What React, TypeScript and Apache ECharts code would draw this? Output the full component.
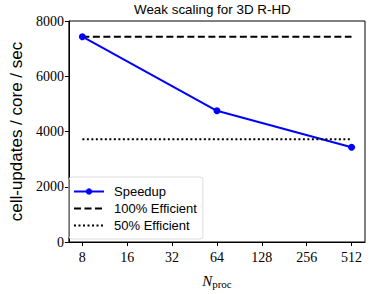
import React, { useEffect, useRef } from "react";
import * as echarts from "echarts";

const nproc = [8, 64, 512];
const speedup = [7430, 4750, 3430];
const effX = [8, 512];
const eff100 = [7430, 7430];
const eff50 = [3715, 3715];
const xTicks = [8, 16, 32, 64, 128, 256, 512];

export default function App() {
  const ref = useRef<HTMLDivElement>(null);
  useEffect(() => {
    const chart = echarts.init(ref.current!, null, { renderer: "svg" });
    const serif = "'Liberation Serif', 'DejaVu Serif', serif";
    const sans = "'Liberation Sans', Arial, sans-serif";
    chart.setOption({
      animation: false,
      backgroundColor: "#fff",
      title: {
        text: "Weak scaling for 3D R-HD",
        left: 134,
        top: 3,
        padding: 0,
        textStyle: { fontFamily: sans, fontSize: 13.4, fontWeight: "normal", color: "#000" },
      },
      grid: { left: 62, right: 9, top: 21, bottom: 48, show: true, borderColor: "#000", borderWidth: 1 },
      legend: {
        orient: "vertical",
        left: 69,
        top: 177,
        padding: [8, 6, 7, 4],
        itemGap: 4,
        itemWidth: 30,
        itemHeight: 8,
        borderColor: "#ddd",
        borderWidth: 1,
        borderRadius: 3,
        textStyle: { fontFamily: sans, fontSize: 13, color: "#000", padding: [0, 0, 0, 5] },
        data: [
          { name: "Speedup" },
          { name: "100% Efficient", itemStyle: { opacity: 0 } },
          { name: "50% Efficient", itemStyle: { opacity: 0 } },
        ],
      },
      xAxis: {
        type: "log",
        logBase: 2,
        min: 8 / Math.pow(2, 0.3),
        max: 512 * Math.pow(2, 0.3),
        splitLine: { show: false },
        axisLine: { lineStyle: { color: "#000" } },
        axisTick: { customValues: xTicks, length: 4, lineStyle: { color: "#000" } },
        axisLabel: { customValues: xTicks, fontFamily: serif, fontSize: 14, color: "#000", margin: 8 },
        name: "{n|N}{s|proc}",
        nameLocation: "middle",
        nameGap: 30,
        nameTextStyle: {
          rich: {
            n: { fontFamily: serif, fontStyle: "italic", fontSize: 15, color: "#000" },
            s: { fontFamily: serif, fontSize: 11, color: "#000", verticalAlign: "bottom", padding: [6, 0, 0, 0] },
          },
        },
      },
      yAxis: {
        type: "value",
        min: 0,
        max: 8000,
        interval: 2000,
        splitLine: { show: false },
        axisLine: { show: true, lineStyle: { color: "#000" } },
        axisTick: { show: true, length: 4, lineStyle: { color: "#000" } },
        axisLabel: { fontFamily: serif, fontSize: 14, color: "#000", margin: 5, formatter: (v: number) => String(v) },
        name: "cell-updates / core / sec",
        nameLocation: "middle",
        nameGap: 35,
        nameTextStyle: { fontFamily: sans, fontSize: 17, color: "#000" },
      },
      series: [
        {
          name: "Speedup",
          type: "line",
          data: nproc.map((n, i) => [n, speedup[i]]),
          symbol: "circle",
          symbolSize: 7,
          itemStyle: { color: "#0000ff" },
          lineStyle: { color: "#0000ff", width: 2 },
        },
        {
          name: "100% Efficient",
          type: "line",
          data: effX.map((n, i) => [n, eff100[i]]),
          symbol: "none",
          itemStyle: { color: "#000" },
          lineStyle: { color: "#000", width: 2, type: [7, 3.5] },
        },
        {
          name: "50% Efficient",
          type: "line",
          data: effX.map((n, i) => [n, eff50[i]]),
          symbol: "none",
          itemStyle: { color: "#000" },
          lineStyle: { color: "#000", width: 2, type: [2, 2.5] },
        },
      ],
    });
    return () => chart.dispose();
  }, []);
  return <div ref={ref} style={{ width: 374, height: 294, position: "absolute", left: 0, top: 0 }} />;
}
